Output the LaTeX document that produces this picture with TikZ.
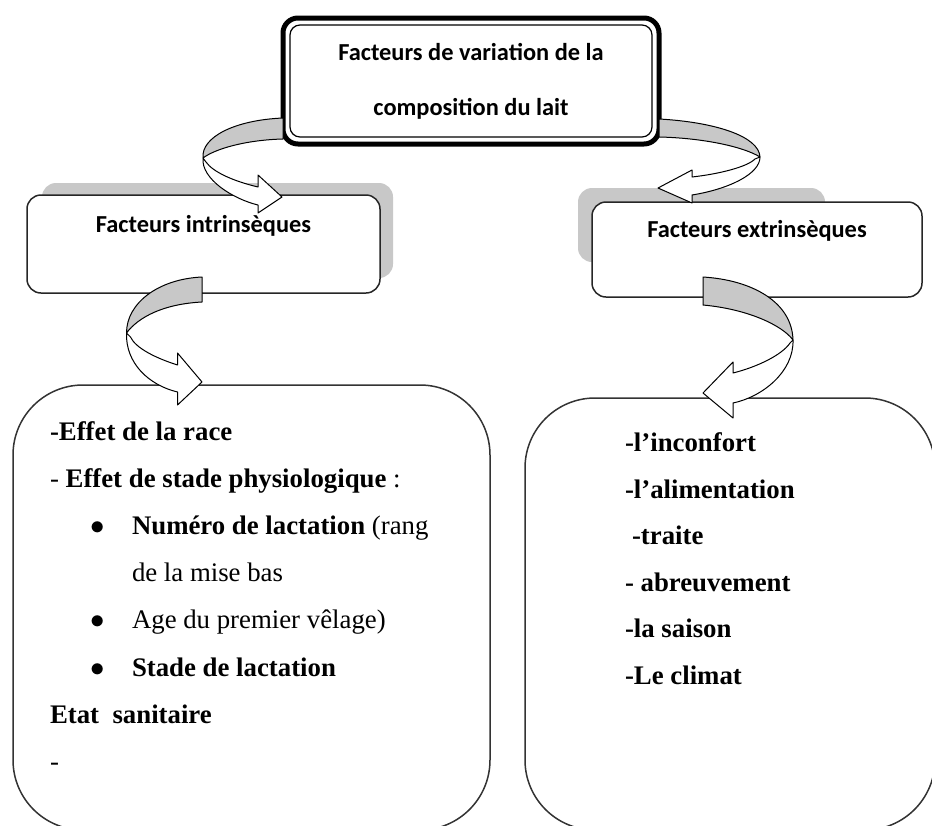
\documentclass[tikz,border=0pt]{standalone}
\usepackage{fontspec}
\setmainfont{Liberation Serif}
\newfontfamily\headfont{Carlito}
\usetikzlibrary{positioning}
\definecolor{shadowgray}{RGB}{200,200,200}
\newcommand{\listbullet}{\hspace*{20.2pt}\makebox[20.8pt][l]{$\bullet$}}

\begin{document}
\begin{tikzpicture}[x=0.5pt, y=-0.5pt, outer sep=0pt,
  headtext/.style={font={\headfont\bfseries\fontsize{12.2}{27.5}\selectfont}},
  mainbox/.style={headtext, draw, line width=2.5pt, rounded corners=7.5pt, fill=white, align=center, inner sep=0pt},
  midbox/.style={headtext, draw=black!85, line width=0.75pt, rounded corners=7pt, fill=white, inner sep=0pt},
  bigbox/.style={draw=black!80, line width=0.75pt, rounded corners=35pt},
  boxshadow/.style={fill=shadowgray, rounded corners=7pt},
  listtext/.style={align=left, inner sep=0pt},
  ribbonback/.style={fill=shadowgray, draw=black, line width=0.5pt, line join=round},
  ribbonfront/.style={fill=white, draw=black, line width=0.5pt, line join=round}]

  \useasboundingbox (0,0) rectangle (932,825);

  % Shadows
  \fill[boxshadow] (42,183) rectangle (393,278);
  \fill[boxshadow] (578,188) rectangle (825,262);

  % Define nodes
  \node[mainbox, minimum width=188pt, minimum height=63pt] (top) at (471,81) {Facteurs de variation de la\\composition du lait};
  \draw[line width=0.6pt, rounded corners=5pt] ([shift={(7,7)}]top.north west) rectangle ([shift={(-7,-7)}]top.south east);

  \node[midbox, minimum width=176.5pt, text height=18.5pt, text depth=30.5pt] (intr) at (203.5,244) {Facteurs intrinsèques};
  \node[midbox, minimum width=165pt, text height=17.5pt, text depth=30pt] (extr) at (757,249.5) {Facteurs extrinsèques};

  \node[bigbox, minimum width=238.5pt, minimum height=222.5pt] (intrbox) at (251.5,607.5) {};
  \node[bigbox, minimum width=205pt, minimum height=216pt] (extrbox) at (730,614) {};

  \node[listtext, font={\bfseries\fontsize{13.4}{23.6}\selectfont}, below right=11pt and 18.5pt of intrbox.north west] (intrtext) {\strut-Effet de la race\\
    {\mdseries- }Effet de stade physiologique{\mdseries\ :}\\
    \listbullet Numéro de lactation {\mdseries(rang}\\
    \hspace*{41pt}{\mdseries de la mise bas}\\
    \listbullet{\mdseries Age du premier vêlage)}\\
    \listbullet Stade de lactation\\
    Etat~~sanitaire\\
    {\mdseries -}};

  \node[listtext, font={\bfseries\fontsize{13.4}{23.25}\selectfont}, below right=10.7pt and 50pt of extrbox.north west] (extrtext) {\strut-l’inconfort\\
    -l’alimentation\\
    \hspace*{3.5pt}-traite\\
    - abreuvement\\
    -la saison\\
    -Le climat};

  % Curved arrows
  \begin{scope}[shift={(top.west)}]
    \filldraw[ribbonback] (0,37) .. controls (-48,39) and (-82,56) .. (-80,77) .. controls (-68,68) and (-38,59) .. (0,58) -- cycle;
    \filldraw[ribbonfront] (-80,77) .. controls (-82,98) and (-50,118) .. (-25,124) -- (-25,132) -- (-1,116) -- (-25,94) -- (-25,106) .. controls (-50,100) and (-70,91) .. (-77,81) -- cycle;
  \end{scope}

  \begin{scope}[shift={(top.east)}]
    \filldraw[ribbonback] (0,38) .. controls (55,41) and (100,55) .. (101,76) .. controls (85,66) and (45,57) .. (0,56) -- cycle;
    \filldraw[ribbonfront] (101,76) .. controls (101,93) and (70,108) .. (33,114) -- (33,122) -- (-1,107) -- (33,89) -- (33,96) .. controls (60,93) and (88,86) .. (96,78) -- cycle;
  \end{scope}

  \begin{scope}[shift={(intr.south)}]
    \filldraw[ribbonback] (-1.5,-16) .. controls (-45,-14) and (-77,10) .. (-77,40) .. controls (-65,24) and (-40,11) .. (-1.5,9) -- cycle;
    \filldraw[ribbonfront] (-77,40) .. controls (-78,70) and (-55,92) .. (-26,99) -- (-26,112) -- (-1.5,89) -- (-26,60) -- (-26,72) .. controls (-48,65) and (-68,55) .. (-73,44) -- cycle;
  \end{scope}

  \begin{scope}[shift={(extr.south)}]
    \filldraw[ribbonback] (-54,-20) .. controls (-5,-17) and (35,5) .. (36,43) .. controls (25,28) and (-10,12) .. (-54,8) -- cycle;
    \filldraw[ribbonfront] (36,43) .. controls (37,75) and (5,100) .. (-24,106) -- (-24,121) -- (-54,96) -- (-24,65) -- (-24,76) .. controls (0,70) and (25,58) .. (33,46) -- cycle;
  \end{scope}
\end{tikzpicture}
\end{document}
